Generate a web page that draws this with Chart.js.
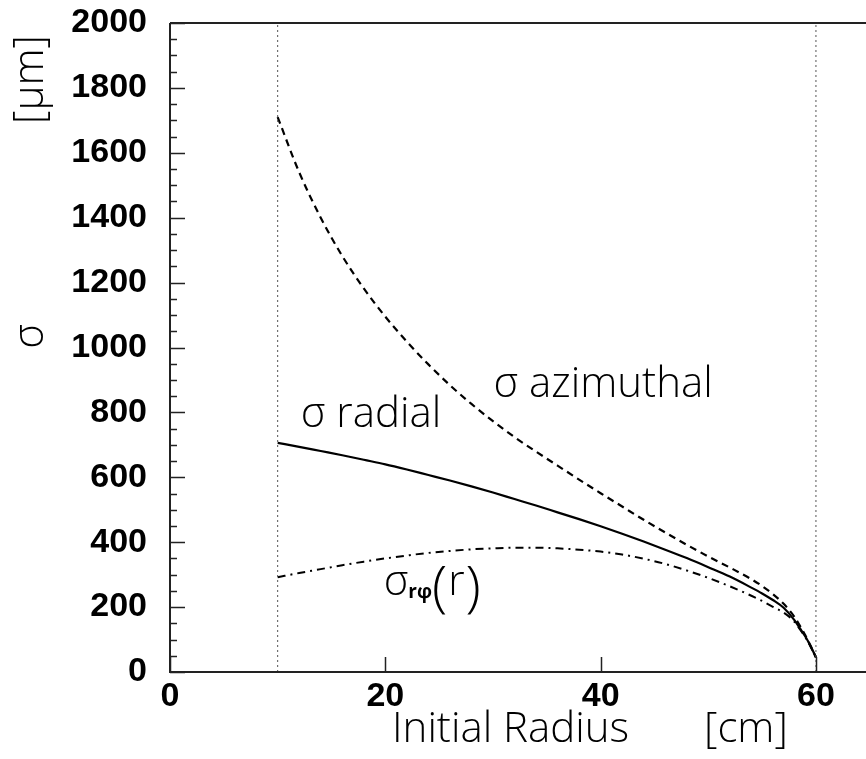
<!DOCTYPE html>
<html>
<head>
<meta charset="utf-8">
<script src="https://cdn.jsdelivr.net/npm/chart.js@4.4.1/dist/chart.umd.min.js"></script>
<style>
  html, body { margin: 0; padding: 0; background: #fff; }
  #wrap { width: 866px; height: 759px; }
</style>
</head>
<body>
<div id="wrap"><canvas id="c" width="866" height="759"></canvas></div>
<script>
// === Data ===
const radius = [10, 12, 14, 16, 18, 20, 22, 24, 26, 28, 30, 32, 34, 36, 38, 40, 42, 44, 46, 48, 50, 52, 54, 55, 56, 57, 58, 58.5, 59, 59.5, 60];
const sigmaAzimuthal = [1710, 1540, 1400, 1282, 1182, 1095, 1018, 948, 884, 826, 773, 724, 679, 636, 593, 551, 510, 469, 430, 392, 356, 322, 286, 265, 240, 210, 170, 143, 114, 81, 45];
const sigmaRadial = [706, 694, 681, 668, 654, 640, 624, 607, 590, 572, 553, 533, 513, 492, 471, 449, 426, 402, 377, 351, 323, 294, 260, 242, 222, 198, 160, 135, 110, 80, 45];
const sigmaRPhi = [292, 305, 317, 329, 340, 350, 359, 367, 373, 378, 381, 383, 383, 381, 377, 371, 362, 349, 333, 313, 290, 264, 235, 219, 201, 183, 155, 132, 108, 78, 45];
const boundaries = [10, 60];

const xTicks = [0, 20, 40, 60];
const yTicks = [0, 200, 400, 600, 800, 1000, 1200, 1400, 1600, 1800, 2000];

const toPoints = (xs, ys) => xs.map((x, i) => ({ x: x, y: ys[i] }));

const labelFont = "300 42px 'Open Sans', 'DejaVu Sans', sans-serif";
const bigParen = "300 56px 'Open Sans', 'DejaVu Sans', sans-serif";
const tickFont = { family: "'Liberation Sans', Arial, sans-serif", size: 34, weight: 'bold' };

// === Frame, inward ticks and text ===
const framePlugin = {
  id: 'frame',
  afterDraw(chart) {
    const ctx = chart.ctx;
    const a = chart.chartArea;
    const xs = chart.scales.x, ys = chart.scales.y;
    ctx.save();
    ctx.strokeStyle = '#222';
    ctx.lineWidth = 2;
    ctx.beginPath();
    ctx.moveTo(a.left, a.top); ctx.lineTo(a.right, a.top);
    ctx.moveTo(a.left, a.top); ctx.lineTo(a.left, a.bottom);
    ctx.moveTo(a.left - 1, a.bottom); ctx.lineTo(a.right, a.bottom);
    ctx.stroke();

    ctx.lineWidth = 1.5;
    ctx.beginPath();
    for (let v = 0; v <= 2000; v += 50) {
      const py = Math.round(ys.getPixelForValue(v)) + 0.5;
      const len = v % 200 === 0 ? 15 : 7;
      ctx.moveTo(a.left, py); ctx.lineTo(a.left + len, py);
    }
    xTicks.forEach(v => {
      const px = Math.round(xs.getPixelForValue(v)) + 0.5;
      ctx.moveTo(px, a.bottom); ctx.lineTo(px, a.bottom - 15);
    });
    ctx.stroke();

    ctx.fillStyle = '#000';
    ctx.font = labelFont;
    ctx.textBaseline = 'alphabetic';
    ctx.textAlign = 'left';
    const at = (x, y) => [xs.getPixelForValue(x), ys.getPixelForValue(y)];

    let p = at(12.15, 755);
    ctx.fillText('σ radial', p[0], p[1]);
    p = at(30.05, 847);
    ctx.fillText('σ azimuthal', p[0], p[1]);

    // sigma_rphi(r)
    p = at(19.85, 237);
    let x0 = p[0];
    ctx.fillText('σ', x0, p[1]);
    x0 += ctx.measureText('σ').width;
    ctx.font = "bold 19px 'Open Sans', 'DejaVu Sans', sans-serif";
    ctx.fillText('rφ', x0, p[1] + 3);
    x0 += ctx.measureText('rφ').width;
    ctx.font = bigParen;
    ctx.fillText('(', x0, p[1] + 11);
    x0 += ctx.measureText('(').width + 1;
    ctx.font = labelFont;
    ctx.fillText('r', x0, p[1]);
    x0 += ctx.measureText('r').width + 1;
    ctx.font = bigParen;
    ctx.fillText(')', x0, p[1] + 11);

    // axis titles
    ctx.font = labelFont;
    ctx.fillText('Initial Radius', 392, 742);
    ctx.fillText('[cm]', 704, 742);

    ctx.translate(43, 0);
    ctx.rotate(-Math.PI / 2);
    ctx.textAlign = 'right';
    ctx.fillText('[μm]', -35, 0);
    ctx.fillText('σ', -324, 0);
    ctx.restore();
  }
};

const lineDs = (label, data, dash, width) => ({
  label: label,
  data: data,
  showLine: true,
  borderColor: '#000',
  borderWidth: width,
  borderDash: dash,
  pointRadius: 0,
  fill: false,
  cubicInterpolationMode: 'monotone'
});

new Chart(document.getElementById('c'), {
  type: 'scatter',
  data: {
    datasets: [
      {
        label: 'inner',
        data: [{ x: boundaries[0], y: 0 }, { x: boundaries[0], y: 2000 }],
        showLine: true, borderColor: '#555', borderWidth: 1, borderDash: [2, 3], pointRadius: 0
      },
      {
        label: 'outer',
        data: [{ x: boundaries[1], y: 0 }, { x: boundaries[1], y: 2000 }],
        showLine: true, borderColor: '#555', borderWidth: 1, borderDash: [2, 3], pointRadius: 0
      },
      lineDs('σ azimuthal', toPoints(radius, sigmaAzimuthal), [7, 5], 2.2),
      lineDs('σ radial', toPoints(radius, sigmaRadial), [], 2.2),
      lineDs('σ rφ', toPoints(radius, sigmaRPhi), [8, 5, 2, 5], 2)
    ]
  },
  options: {
    responsive: false,
    animation: false,
    layout: { padding: { top: 23, left: 0, right: 0, bottom: 0 } },
    plugins: { legend: { display: false }, tooltip: { enabled: false } },
    scales: {
      x: {
        type: 'linear', min: 0, max: 64.65,
        grid: { display: false, drawTicks: false },
        border: { display: false },
        afterBuildTicks: s => { s.ticks = xTicks.map(v => ({ value: v })); },
        afterFit: s => { s.height = 87; s.paddingLeft = 0; s.paddingRight = 0; },
        ticks: { font: tickFont, color: '#000', padding: 4, maxRotation: 0, callback: v => String(v) }
      },
      y: {
        type: 'linear', min: 0, max: 2000,
        grid: { display: false, drawTicks: false },
        border: { display: false },
        afterBuildTicks: s => { s.ticks = yTicks.map(v => ({ value: v })); },
        afterFit: s => { s.width = 170; s.paddingTop = 0; s.paddingBottom = 0; },
        ticks: { font: tickFont, color: '#000', padding: 23, callback: v => String(v) }
      }
    }
  },
  plugins: [framePlugin]
});
</script>
</body>
</html>
